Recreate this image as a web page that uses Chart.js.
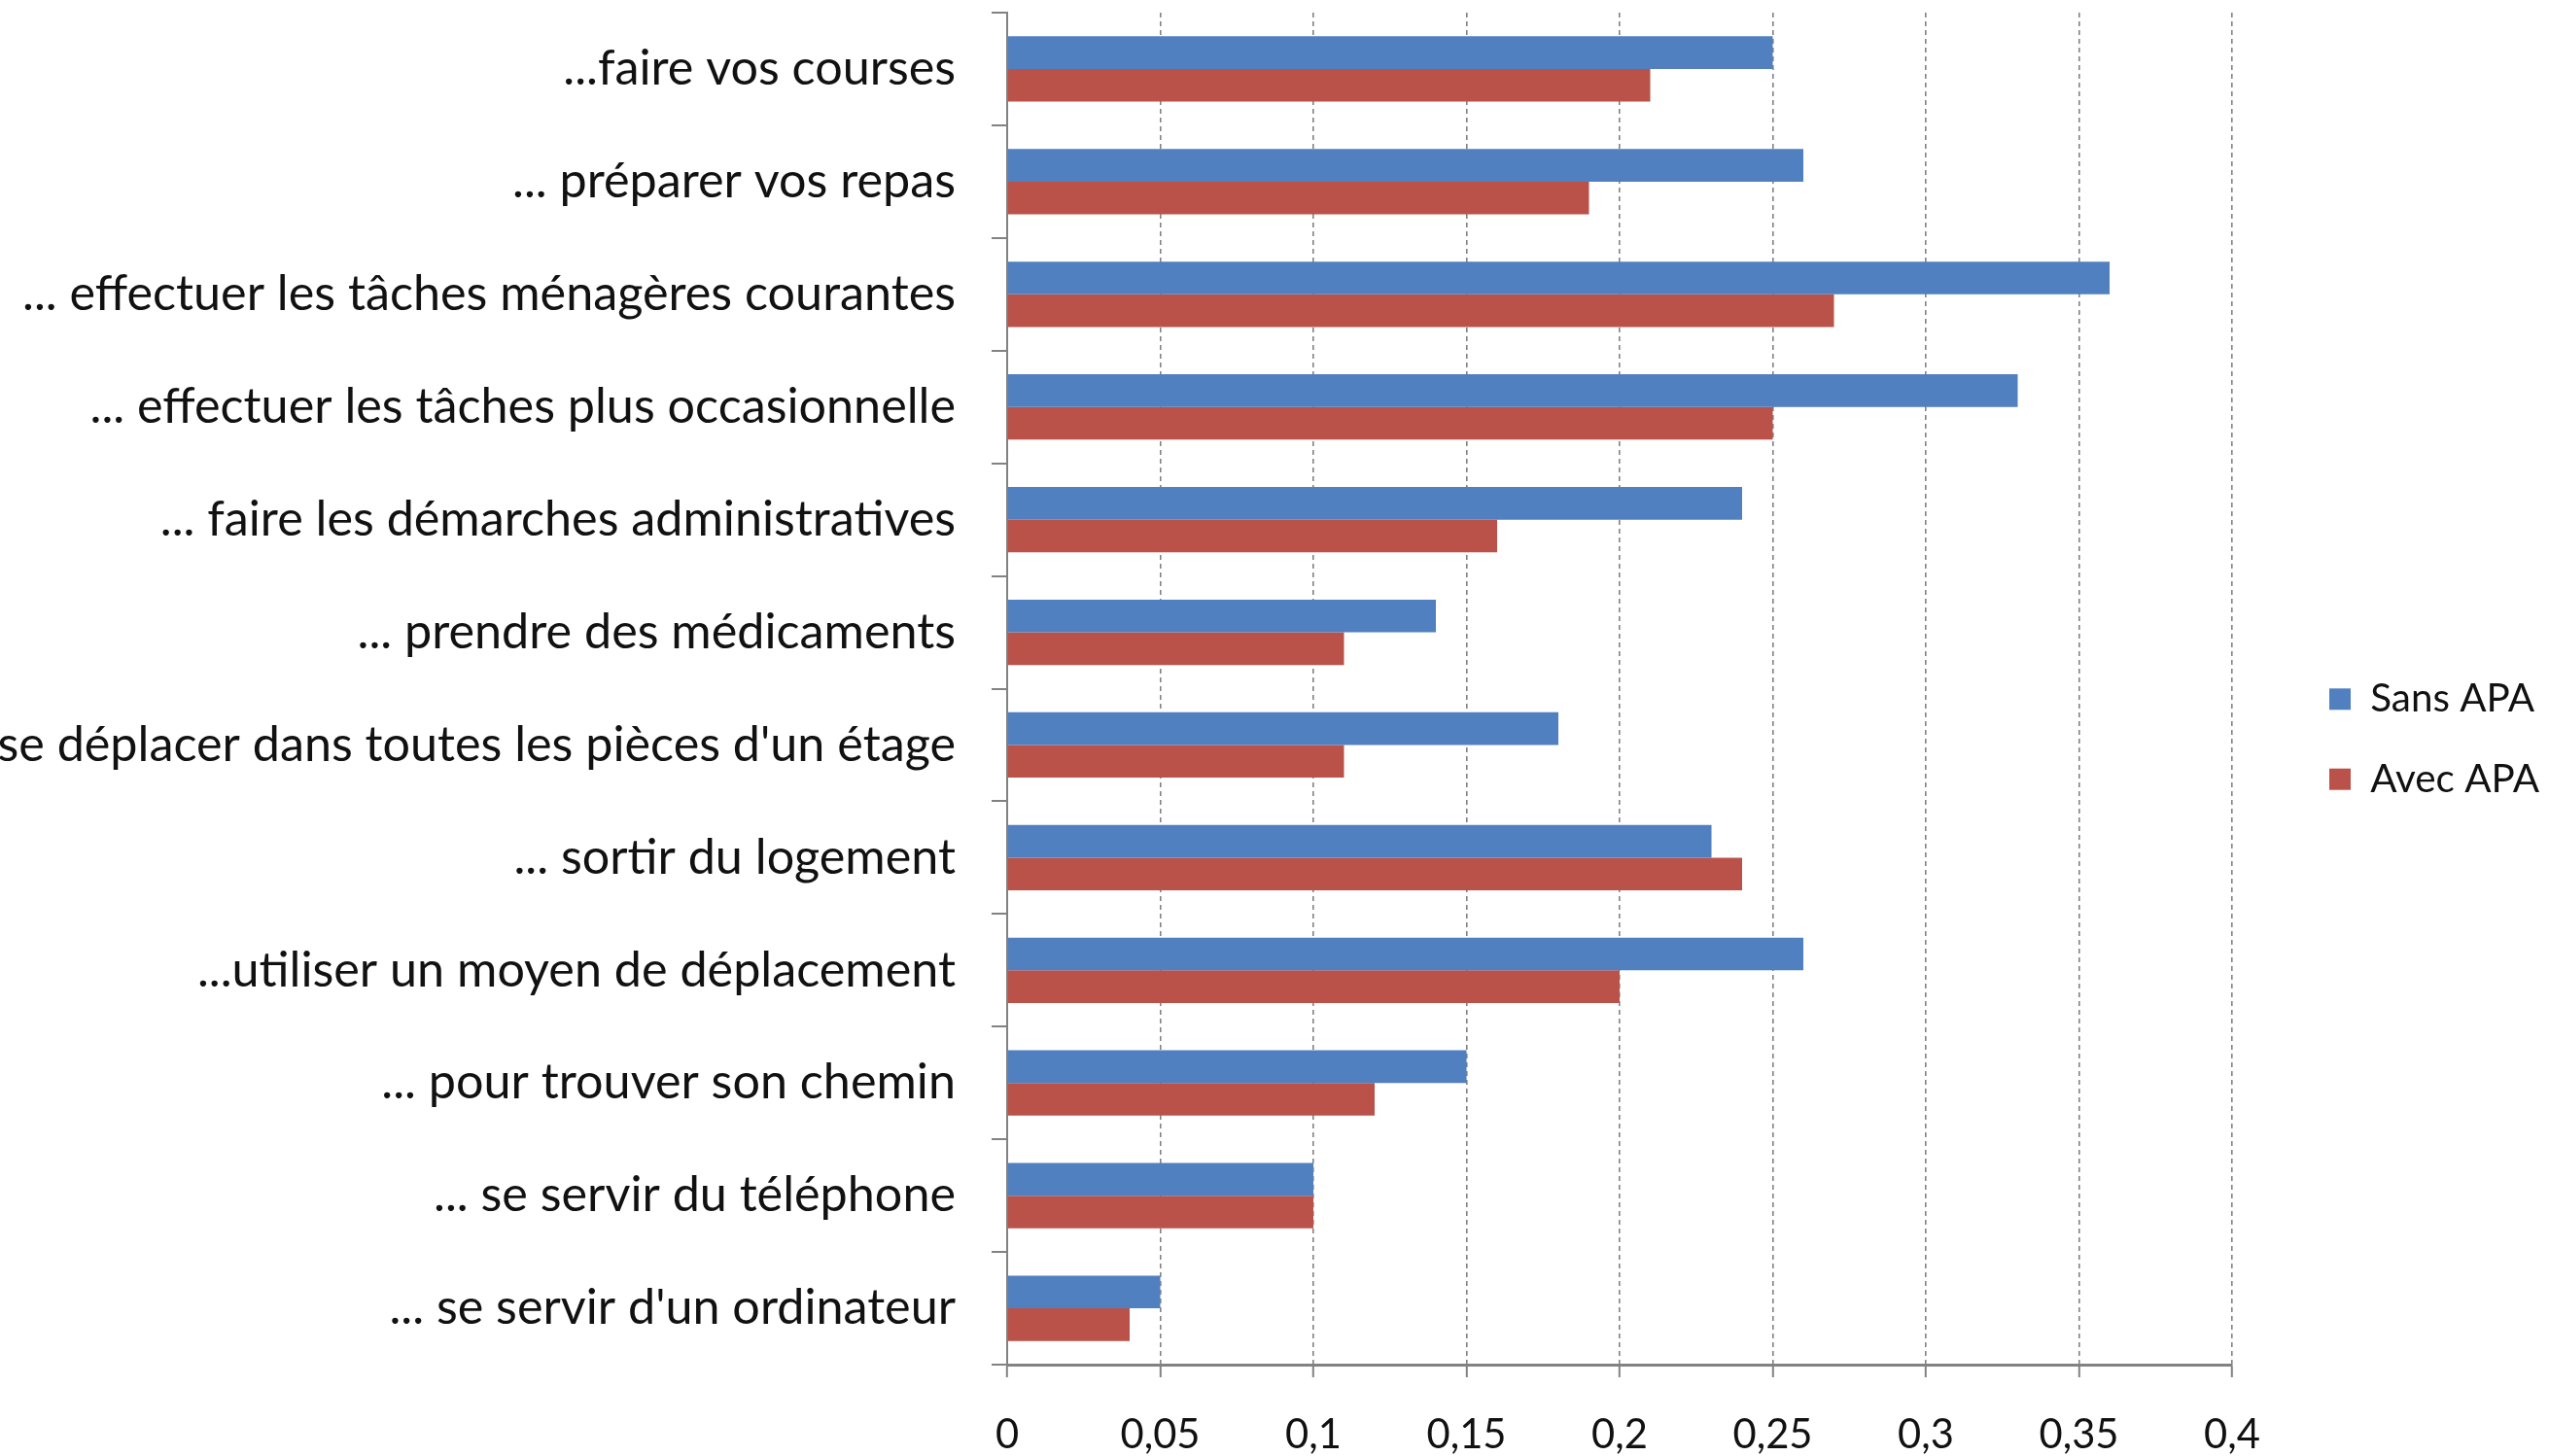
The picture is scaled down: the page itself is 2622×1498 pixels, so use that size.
<!DOCTYPE html>
<html><head><meta charset="utf-8">
<script src="https://cdn.jsdelivr.net/npm/chart.js@4/dist/chart.umd.min.js"></script>
<style>html,body{margin:0;padding:0;background:#fff;overflow:hidden}canvas{display:block}</style>
</head><body>
<canvas id="c" width="2622" height="1498"></canvas>
<script>
const categories = [
  "...faire vos courses",
  "... préparer vos repas",
  "... effectuer les tâches ménagères courantes",
  "... effectuer les tâches plus occasionnelle",
  "... faire les démarches administratives",
  "... prendre des médicaments",
  "... se déplacer dans toutes les pièces d'un étage",
  "... sortir du logement",
  "...utiliser un moyen de déplacement",
  "... pour trouver son chemin",
  "... se servir du téléphone",
  "... se servir d'un ordinateur"
];
const sansAPA = [0.25, 0.26, 0.36, 0.33, 0.24, 0.14, 0.18, 0.23, 0.26, 0.15, 0.10, 0.05];
const avecAPA = [0.21, 0.19, 0.27, 0.25, 0.16, 0.11, 0.11, 0.24, 0.20, 0.12, 0.10, 0.04];
const seriesNames = ["Sans APA", "Avec APA"];
const xTickLabels = ["0", "0,05", "0,1", "0,15", "0,2", "0,25", "0,3", "0,35", "0,4"];

const FONT = "Lato";
const mctx = document.createElement('canvas').getContext('2d');
mctx.font = '100px ' + FONT;
const labelSize = Math.round(100 * 961 / mctx.measureText(categories[2]).width * 10) / 10;
const legendSize = Math.round(100 * 169 / mctx.measureText(seriesNames[0]).width * 10) / 10;
const tickSize = Math.round(100 * 82 / mctx.measureText(xTickLabels[1]).width * 10) / 10;

const AXIS = '#828282';

const legendShift = {
  id: 'legendShift',
  afterLayout(chart) {
    const lg = chart.legend;
    if (!lg) return;
    const pad = lg.options.labels.padding;
    const dx = (2396 - pad) - lg.left;
    lg.left += dx; lg.right += dx;
    lg.top += 5; lg.bottom += 5;
  }
};

new Chart(document.getElementById('c'), {
  type: 'bar',
  data: {
    labels: categories,
    datasets: [
      { label: seriesNames[0], data: sansAPA, backgroundColor: 'rgb(80,128,192)', barPercentage: 1, categoryPercentage: 0.58 },
      { label: seriesNames[1], data: avecAPA, backgroundColor: 'rgb(186,82,74)', barPercentage: 1, categoryPercentage: 0.58 }
    ]
  },
  options: {
    indexAxis: 'y',
    responsive: false,
    animation: false,
    devicePixelRatio: 1,
    layout: { padding: { top: 13, left: 0, right: 0, bottom: 0 } },
    plugins: {
      tooltip: { enabled: false },
      legend: {
        position: 'right',
        labels: {
          boxWidth: 22, boxHeight: 22, padding: Math.round(82 - legendSize),
          color: '#111',
          font: { family: FONT, size: legendSize }
        }
      }
    },
    scales: {
      x: {
        min: 0, max: 0.4,
        afterFit(s) { s.paddingRight = 2622 - 2296; s.height = 94; },
        ticks: {
          stepSize: 0.05,
          padding: 35,
          color: '#111',
          font: { family: FONT, size: tickSize },
          callback: (v, i) => xTickLabels[i]
        },
        grid: { color: AXIS, lineWidth: 1.6, tickLength: 13, tickColor: AXIS, tickWidth: 2 },
        border: { color: AXIS, width: 3, dash: [5, 4] }
      },
      y: {
        afterFit(s) { s.width = 1036; s.paddingTop = 0; s.paddingBottom = 0; },
        ticks: {
          autoSkip: false,
          padding: 37,
          color: '#111',
          font: { family: FONT, size: labelSize }
        },
        grid: { offset: true, drawOnChartArea: false, tickLength: 16, color: AXIS, lineWidth: 2 },
        border: { color: AXIS, width: 2 }
      }
    }
  },
  plugins: [legendShift]
});
</script>
</body></html>
